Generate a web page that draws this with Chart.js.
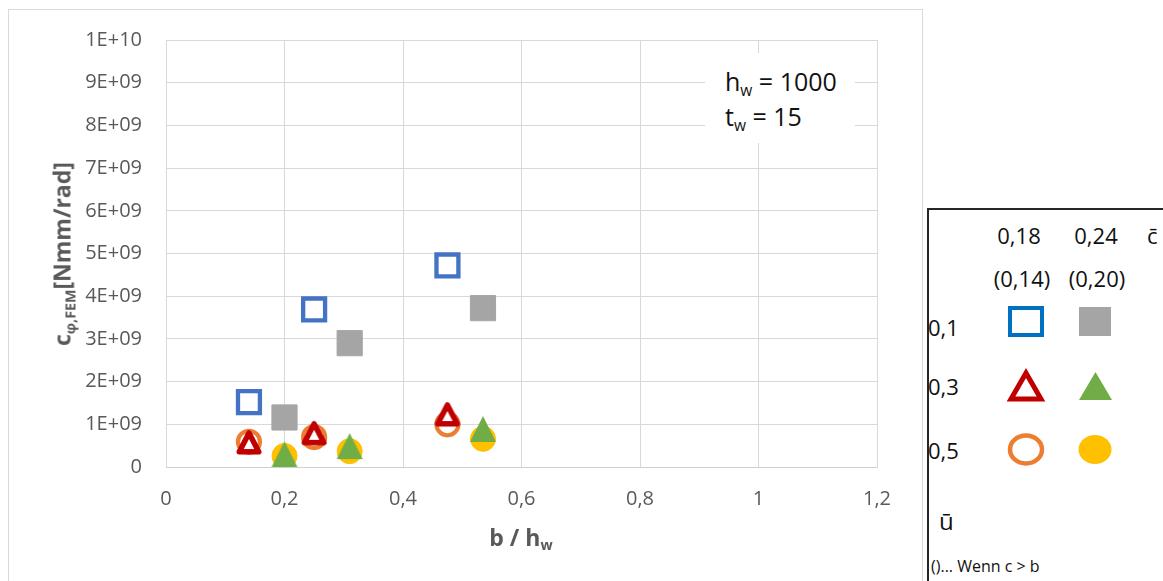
<!DOCTYPE html>
<html>
<head>
<meta charset="utf-8">
<script src="https://cdn.jsdelivr.net/npm/chart.js@4.4.1/dist/chart.umd.min.js"></script>
<style>
  html, body { margin: 0; padding: 0; background: #fff; width: 1163px; height: 581px; overflow: hidden; font-family: 'Open Sans', sans-serif; }
  #frame { position: absolute; left: 8px; top: 9px; width: 915px; height: 620px; border: 1px solid #d9d9d9; box-sizing: border-box; }
  #chartBox { position: absolute; left: 0; top: 0; width: 1163px; height: 581px; }
  .ov { position: absolute; white-space: nowrap; line-height: 1; }
  .ytitle { left: 62px; top: 254px; transform: translate(-50%, -50%) rotate(-90deg); font-weight: bold; font-size: 23px; color: #595959; }
  .xtitle { left: 521px; top: 537px; transform: translate(-50%, -50%); font-weight: bold; font-size: 23px; color: #595959; }
  sub { font-size: 0.62em; vertical-align: -0.35em; line-height: 0; }
  #note { position: absolute; left: 705px; top: 53px; width: 150px; height: 90px; background: #fff; }
  .noteLine { position: absolute; left: 20px; font-size: 25px; color: #111; transform: translateY(-50%); }
  #legend { position: absolute; left: 927px; top: 208px; width: 300px; height: 420px; border: 2px solid #262626; box-sizing: border-box; background: #fff; }
  .lg { position: absolute; white-space: nowrap; line-height: 1; color: #111; font-size: 22px; }
  .c { transform: translate(-50%, -50%); }
  .l { transform: translateY(-50%); }
  svg.mk { position: absolute; overflow: visible; }
</style>
</head>
<body>
<div id="frame"></div>
<div id="chartBox"><canvas id="chart" width="1163" height="581"></canvas></div>

<div class="ov ytitle">c<sub>φ,FEM</sub>[Nmm/rad]</div>
<div class="ov xtitle">b / h<sub>w</sub></div>

<div id="note">
  <div class="noteLine" style="top:28px">h<sub>w</sub> = 1000</div>
  <div class="noteLine" style="top:63px">t<sub>w</sub> = 15</div>
</div>

<div id="legend"></div>
<div class="lg c" style="left:1019px;top:235px">0,18</div>
<div class="lg c" style="left:1096px;top:235px">0,24</div>
<div class="lg l" style="left:1147px;top:235px">c&#772;</div>
<div class="lg c" style="left:1022px;top:278px">(0,14)</div>
<div class="lg c" style="left:1097px;top:278px">(0,20)</div>
<div class="lg l" style="left:928px;top:327px">0,1</div>
<div class="lg l" style="left:928px;top:386px">0,3</div>
<div class="lg l" style="left:928px;top:450px">0,5</div>
<div class="lg l" style="left:939px;top:521px;font-size:24px">u&#772;</div>
<div class="lg l" style="left:931px;top:566px;font-size:16px">()... Wenn c &gt; b</div>

<svg class="mk" style="left:0;top:0" width="1163" height="581">
  <rect x="1010" y="308" width="32" height="27" fill="#fff" stroke="#0070C0" stroke-width="4"/>
  <rect x="1079" y="307" width="32" height="29" fill="#A5A5A5"/>
  <polygon points="1026,373 1041,399 1011,399" fill="#fff" stroke="#C00000" stroke-width="5" stroke-linejoin="miter"/>
  <polygon points="1095.5,372 1112,400 1079,400" fill="#70AD47"/>
  <ellipse cx="1026" cy="449.5" rx="16" ry="14" fill="#fff" stroke="#ED7D31" stroke-width="4.5"/>
  <ellipse cx="1095" cy="449.5" rx="16.5" ry="14.5" fill="#FFC000"/>
</svg>

<script>
// b / h_w values for the two web-opening ratios c̄ = 0,18 and c̄ = 0,24
const xNarrow = [0.14, 0.25, 0.475];
const xWide   = [0.20, 0.31, 0.535];

// rotational stiffness c_φ,FEM [Nmm/rad] per ū level
const stiffU01Narrow = [1.52e9, 3.69e9, 4.72e9];
const stiffU01Wide   = [1.16e9, 2.90e9, 3.72e9];
const stiffU03Narrow = [0.585e9, 0.80e9, 1.24e9];
const stiffU03Wide   = [0.30e9, 0.49e9, 0.89e9];
const stiffU05Narrow = [0.59e9, 0.70e9, 1.00e9];
const stiffU05Wide   = [0.26e9, 0.37e9, 0.66e9];

// axis tick labels
const yTickLabels = ['0', '1E+09', '2E+09', '3E+09', '4E+09', '5E+09', '6E+09', '7E+09', '8E+09', '9E+09', '1E+10'];
const xTickLabels = ['0', '0,2', '0,4', '0,6', '0,8', '1', '1,2'];

function pairs(xs, ys) { return xs.map((x, i) => ({ x: x, y: ys[i] })); }

// triangle marker whose bounding box is centred on the data point
function triangleMarker(size, fill, stroke, lw) {
  const pad = 2;
  const c = document.createElement('canvas');
  c.width = size + pad * 2; c.height = size + pad * 2;
  const g = c.getContext('2d');
  const inset = stroke ? lw / 2 + 0.5 : 0;
  g.beginPath();
  g.moveTo(pad + size / 2, pad + inset * 1.2);
  g.lineTo(pad + size - inset, pad + size - inset);
  g.lineTo(pad + inset, pad + size - inset);
  g.closePath();
  g.fillStyle = fill; g.fill();
  if (stroke) { g.lineJoin = 'round'; g.lineWidth = lw; g.strokeStyle = stroke; g.stroke(); }
  return c;
}

const redTri = triangleMarker(26, '#ffffff', '#C00000', 5.5);
const greenTri = triangleMarker(26, '#70AD47', null, 0);

const sq = { pointStyle: 'rect', showLine: false };

new Chart(document.getElementById('chart'), {
  type: 'scatter',
  data: {
    datasets: [
      { label: 'ū 0,3 / c̄ 0,18', data: pairs(xNarrow, stiffU03Narrow), pointStyle: redTri, pointRadius: 13, order: 0,
        backgroundColor: '#fff', borderColor: '#C00000' },
      { label: 'ū 0,3 / c̄ 0,24', data: pairs(xWide, stiffU03Wide), pointStyle: greenTri, pointRadius: 13, order: 0,
        backgroundColor: '#70AD47', borderColor: '#70AD47' },
      { label: 'ū 0,1 / c̄ 0,18', data: pairs(xNarrow, stiffU01Narrow), ...sq, pointRadius: 15.5, borderWidth: 4.3, order: 1,
        backgroundColor: '#ffffff', borderColor: '#4472C4' },
      { label: 'ū 0,1 / c̄ 0,24', data: pairs(xWide, stiffU01Wide), ...sq, pointRadius: 17.8, borderWidth: 1, order: 1,
        backgroundColor: '#A5A5A5', borderColor: '#A5A5A5' },
      { label: 'ū 0,5 / c̄ 0,18', data: pairs(xNarrow, stiffU05Narrow), pointStyle: 'circle', pointRadius: 11, borderWidth: 4.2, order: 2,
        backgroundColor: '#ffffff', borderColor: '#ED7D31' },
      { label: 'ū 0,5 / c̄ 0,24', data: pairs(xWide, stiffU05Wide), pointStyle: 'circle', pointRadius: 12.5, borderWidth: 1, order: 2,
        backgroundColor: '#FFC000', borderColor: '#FFC000' }
    ]
  },
  options: {
    responsive: false,
    devicePixelRatio: 1,
    animation: false,
    events: [],
    layout: { padding: { left: 0, top: 40, right: 286, bottom: 0 } },
    plugins: { legend: { display: false }, tooltip: { enabled: false } },
    scales: {
      x: {
        type: 'linear', min: 0, max: 1.2,
        afterFit: s => { s.height = 114; },
        grid: { color: '#d9d9d9', lineWidth: 1, drawTicks: false },
        border: { color: '#d0d0d0', width: 1 },
        ticks: {
          stepSize: 0.2, padding: 20, color: '#595959',
          font: { family: 'Open Sans', size: 20 },
          callback: v => xTickLabels[Math.round(v / 0.2)]
        }
      },
      y: {
        type: 'linear', min: 0, max: 1e10,
        afterFit: s => { s.width = 166; },
        grid: { color: '#d9d9d9', lineWidth: 1, drawTicks: false },
        border: { color: '#d9d9d9', width: 1 },
        ticks: {
          stepSize: 1e9, padding: 24, color: '#595959',
          font: { family: 'Open Sans', size: 20 },
          callback: v => yTickLabels[Math.round(v / 1e9)]
        }
      }
    }
  }
});
</script>
</body>
</html>
